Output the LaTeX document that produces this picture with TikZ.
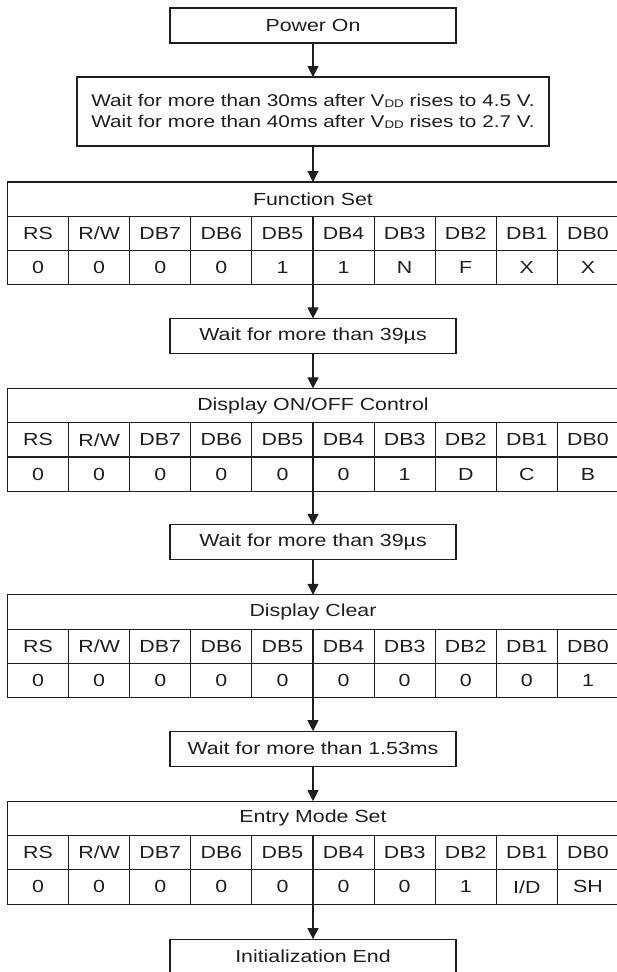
\documentclass[tikz,border=0pt]{standalone}
\usepackage{fontspec}
\setmainfont[FakeStretch=1.22]{Liberation Sans}
\usepackage{tikz}
\usetikzlibrary{arrows.meta,positioning}
\definecolor{ink}{RGB}{30,30,30}
\tikzset{
  stepbox/.style={draw=ink, line width=1.1pt, minimum width=286pt,
    minimum height=35pt, inner sep=0pt, outer sep=0pt, align=center, text=ink},
  titlebox/.style={draw=ink, line width=1.1pt, minimum width=611pt,
    minimum height=34.3pt, inner sep=0pt, outer sep=0pt, text=ink},
  cellbox/.style={draw=ink, line width=1.1pt, minimum width=61.1pt,
    minimum height=34.3pt, inner sep=0pt, outer sep=0pt, text=ink, anchor=north west},
  flow/.style={-{Triangle[length=11pt,width=11pt]}, line width=1.1pt, draw=ink}
}
\newcommand{\vdd}{V\raisebox{-0.5pt}{\fontsize{11}{11}\selectfont DD}}

\begin{document}
\begin{tikzpicture}[font=\fontsize{17.5}{21}\selectfont, node distance=34pt]
\useasboundingbox (0,0) rectangle (617pt,-972pt);
\node[stepbox] (power) at (313pt,-25.5pt) {Power On};
\node[stepbox, minimum width=472pt, minimum height=69pt, font=\fontsize{17}{21}\selectfont,
  below=34pt of power] (vdd)
{Wait for more than 30ms after \vdd{} rises to 4.5 V.\\Wait for more than 40ms after \vdd{} rises to 2.7 V.};

% Function Set
\node[titlebox, below=36pt of vdd] (fs) {Function Set};
\foreach \lab [count=\i from 0] in {RS,R/W,DB7,DB6,DB5,DB4,DB3,DB2,DB1,DB0}
  \node[cellbox] (fsh\i) at ([xshift=\i*61.1pt]fs.south west) {\lab};
\foreach \val [count=\i from 0] in {0,0,0,0,1,1,N,F,X,X}
  \node[cellbox] (fsv\i) at (fsh\i.south west) {\val};
\node[stepbox, below=33.5pt of fsv4.south east] (wait1) {Wait for more than 39µs};

% Display ON/OFF Control
\node[titlebox, below=35pt of wait1] (doc) {Display ON/OFF Control};
\foreach \lab [count=\i from 0] in {RS,R/W,DB7,DB6,DB5,DB4,DB3,DB2,DB1,DB0}
  \node[cellbox] (doch\i) at ([xshift=\i*61.1pt]doc.south west) {\lab};
\foreach \val [count=\i from 0] in {0,0,0,0,0,0,1,D,C,B}
  \node[cellbox] (docv\i) at (doch\i.south west) {\val};
\node[stepbox, below=33.5pt of docv4.south east] (wait2) {Wait for more than 39µs};

% Display Clear
\node[titlebox, below=35pt of wait2] (clr) {Display Clear};
\foreach \lab [count=\i from 0] in {RS,R/W,DB7,DB6,DB5,DB4,DB3,DB2,DB1,DB0}
  \node[cellbox] (clrh\i) at ([xshift=\i*61.1pt]clr.south west) {\lab};
\foreach \val [count=\i from 0] in {0,0,0,0,0,0,0,0,0,1}
  \node[cellbox] (clrv\i) at (clrh\i.south west) {\val};
\node[stepbox, below=33.5pt of clrv4.south east] (wait3) {Wait for more than 1.53ms};

% Entry Mode Set
\node[titlebox, below=35pt of wait3] (ems) {Entry Mode Set};
\foreach \lab [count=\i from 0] in {RS,R/W,DB7,DB6,DB5,DB4,DB3,DB2,DB1,DB0}
  \node[cellbox] (emsh\i) at ([xshift=\i*61.1pt]ems.south west) {\lab};
\foreach \val [count=\i from 0] in {0,0,0,0,0,0,0,1,I/D,SH}
  \node[cellbox] (emsv\i) at (emsh\i.south west) {\val};
\node[stepbox, below=35pt of emsv4.south east] (done) {Initialization End};

\draw[flow] (power)--(vdd);
\draw[flow] (vdd)--(fs);
\draw[flow] (fsv4.south east)--(wait1);
\draw[flow] (wait1)--(doc);
\draw[flow] (docv4.south east)--(wait2);
\draw[flow] (wait2)--(clr);
\draw[flow] (clrv4.south east)--(wait3);
\draw[flow] (wait3)--(ems);
\draw[flow] (emsv4.south east)--(done);
\end{tikzpicture}
\end{document}
